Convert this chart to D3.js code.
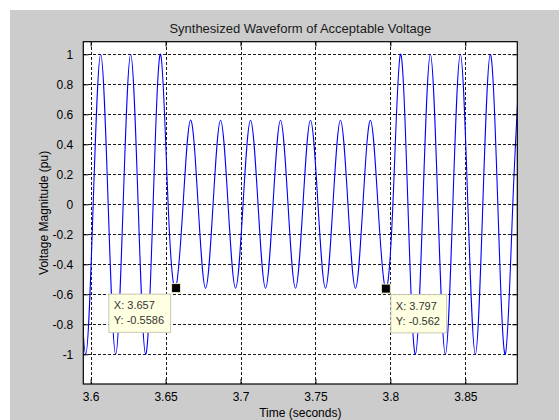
<!DOCTYPE html>
<html>
<head>
<meta charset="utf-8">
<script src="https://cdn.jsdelivr.net/npm/d3@7"></script>
<style>
  html, body { margin: 0; padding: 0; background: #ffffff; }
  svg { display: block; }
  text { font-family: "Liberation Sans", Arial, sans-serif; }
</style>
</head>
<body>
<svg id="chart" width="559" height="420"></svg>
<script>
// ---- Data ----
const timeS = [
  3.5917, 3.5967, 3.6017, 3.6067, 3.6117, 3.6167, 3.6217, 3.6267, 3.6317, 3.6367,
  3.6417, 3.6467, 3.6517, 3.6567, 3.6617, 3.6667, 3.6717, 3.6767, 3.6817, 3.6867,
  3.6917, 3.6967, 3.7017, 3.7067, 3.7117, 3.7167, 3.7217, 3.7267, 3.7317, 3.7367,
  3.7417, 3.7467, 3.7517, 3.7567, 3.7617, 3.7667, 3.7717, 3.7767, 3.7817, 3.7867,
  3.7917, 3.7967, 3.8017, 3.8067, 3.8117, 3.8167, 3.8217, 3.8267, 3.8317, 3.8367,
  3.8417, 3.8467, 3.8517, 3.8567, 3.8617, 3.8667, 3.8717, 3.8767, 3.8817, 3.8867
];
const voltagePu = [
  0, -1, 0, 1, 0, -1, 0, 1, 0, -1,
  0, 1, 0, -0.5586, 0, 0.562, 0, -0.56, 0, 0.56,
  0, -0.56, 0, 0.56, 0, -0.56, 0, 0.56, 0, -0.56,
  0, 0.56, 0, -0.56, 0, 0.56, 0, -0.56, 0, 0.56,
  0, -0.562, 0, 1, 0, -1, 0, 1, 0, -1,
  0, 1, 0, -1, 0, 1, 0, -1, 0, 1
];
const xTicks = [3.6, 3.65, 3.7, 3.75, 3.8, 3.85];
const xTickLabels = ["3.6", "3.65", "3.7", "3.75", "3.8", "3.85"];
const yTicks = [1, 0.8, 0.6, 0.4, 0.2, 0, -0.2, -0.4, -0.6, -0.8, -1];
const yTickLabels = ["1", "0.8", "0.6", "0.4", "0.2", "0", "-0.2", "-0.4", "-0.6", "-0.8", "-1"];
const tipX = [3.657, 3.797];
const tipY = [-0.5586, -0.562];
const tipLabelX = ["X: 3.657", "X: 3.797"];
const tipLabelY = ["Y: -0.5586", "Y: -0.562"];
const titleText = "Synthesized Waveform of Acceptable Voltage";
const xLabelText = "Time (seconds)";
const yLabelText = "Voltage Magnitude (pu)";

// ---- Layout ----
const W = 559, H = 420;
const plot = { left: 83.3, top: 41.7, right: 517.3, bottom: 384 };
const xDomain = [3.5951, 3.8847];
const yDomain = [-1.198, 1.084];

const svg = d3.select("#chart");
svg.append("rect").attr("x", 10).attr("y", 10).attr("width", W - 10).attr("height", H - 10)
  .attr("fill", "#cccccc");

const x = d3.scaleLinear().domain(xDomain).range([plot.left, plot.right]);
const y = d3.scaleLinear().domain(yDomain).range([plot.bottom, plot.top]);

svg.append("rect")
  .attr("x", plot.left).attr("y", plot.top)
  .attr("width", plot.right - plot.left).attr("height", plot.bottom - plot.top)
  .attr("fill", "#ffffff");

svg.append("clipPath").attr("id", "clip").append("rect")
  .attr("x", plot.left).attr("y", plot.top)
  .attr("width", plot.right - plot.left).attr("height", plot.bottom - plot.top);

// Grid
const grid = svg.append("g").attr("stroke", "#1a1a1a").attr("stroke-width", 1)
  .attr("stroke-dasharray", "3,2").attr("shape-rendering", "crispEdges");
grid.selectAll("line.gx").data(xTicks).enter().append("line")
  .attr("x1", d => Math.round(x(d)) + 0.5).attr("x2", d => Math.round(x(d)) + 0.5)
  .attr("y1", plot.top).attr("y2", plot.bottom);
grid.selectAll("line.gy").data(yTicks).enter().append("line")
  .attr("y1", d => Math.round(y(d)) + 0.5).attr("y2", d => Math.round(y(d)) + 0.5)
  .attr("x1", plot.left).attr("x2", plot.right);

// Waveform
const line = d3.line().x((d, i) => x(timeS[i])).y(d => y(d)).curve(d3.curveNatural);
svg.append("path").datum(voltagePu)
  .attr("clip-path", "url(#clip)")
  .attr("d", line)
  .attr("fill", "none").attr("stroke", "#0000ff").attr("stroke-width", 1.1);

// Axes with inward ticks on all four sides
const tickLen = 5;
const xAxisB = d3.axisBottom(x).tickValues(xTicks).tickSizeInner(-tickLen).tickSizeOuter(0)
  .tickPadding(8).tickFormat((d, i) => xTickLabels[i]);
const xAxisT = d3.axisTop(x).tickValues(xTicks).tickSizeInner(-tickLen).tickSizeOuter(0)
  .tickFormat("");
const yAxisL = d3.axisLeft(y).tickValues(yTicks).tickSizeInner(-tickLen).tickSizeOuter(0)
  .tickPadding(10).tickFormat((d, i) => yTickLabels[i]);
const yAxisR = d3.axisRight(y).tickValues(yTicks).tickSizeInner(-tickLen).tickSizeOuter(0)
  .tickFormat("");

function styleAxis(g) {
  g.select(".domain").remove();
  g.selectAll(".tick line").attr("stroke", "#000").attr("stroke-width", 1);
  g.selectAll(".tick text").attr("fill", "#000").attr("font-size", "12px")
    .attr("font-family", "Liberation Sans, Arial, sans-serif");
}
svg.append("g").attr("transform", `translate(0,${plot.bottom})`).call(xAxisB).call(styleAxis)
  .selectAll(".tick text").attr("dy", "0.71em");
svg.append("g").attr("transform", `translate(0,${plot.top})`).call(xAxisT).call(styleAxis);
svg.append("g").attr("transform", `translate(${plot.left},0)`).call(yAxisL).call(styleAxis);
svg.append("g").attr("transform", `translate(${plot.right},0)`).call(yAxisR).call(styleAxis);

// Box
svg.append("rect")
  .attr("x", plot.left).attr("y", plot.top)
  .attr("width", plot.right - plot.left).attr("height", plot.bottom - plot.top)
  .attr("fill", "none").attr("stroke", "#000").attr("stroke-width", 1.2);

// Titles
svg.append("text").attr("x", (plot.left + plot.right) / 2).attr("y", 33)
  .attr("text-anchor", "middle").attr("font-size", "13px").attr("fill", "#1a1a1a").text(titleText);
svg.append("text").attr("x", (plot.left + plot.right) / 2).attr("y", 417)
  .attr("text-anchor", "middle").attr("font-size", "12px").attr("fill", "#000").text(xLabelText);
svg.append("text").attr("transform", `translate(48,${(plot.top + plot.bottom) / 2}) rotate(-90)`)
  .attr("text-anchor", "middle").attr("font-size", "12px").attr("fill", "#000").text(yLabelText);

// Data tips
const tipW = [61.7, 55.7];
tipX.forEach((tx, i) => {
  const mx = x(tx), my = y(tipY[i]);
  const bx = i === 0 ? mx - 5.5 - tipW[i] : mx + 5;
  const by = my + 6;
  svg.append("rect").attr("x", bx).attr("y", by).attr("width", tipW[i]).attr("height", 38.3)
    .attr("fill", "#ffffe1").attr("stroke", "#c9c9b4").attr("stroke-width", 1);
  svg.append("text").attr("x", bx + 5).attr("y", by + 15).attr("font-size", "11px")
    .attr("fill", "#333").text(tipLabelX[i]);
  svg.append("text").attr("x", bx + 5).attr("y", by + 30).attr("font-size", "11px")
    .attr("fill", "#333").text(tipLabelY[i]);
  svg.append("rect").attr("x", mx - 4.5).attr("y", my - 4.5).attr("width", 9).attr("height", 9)
    .attr("fill", "#000").attr("stroke", "#f0e8c0").attr("stroke-width", 1);
});
</script>
</body>
</html>
